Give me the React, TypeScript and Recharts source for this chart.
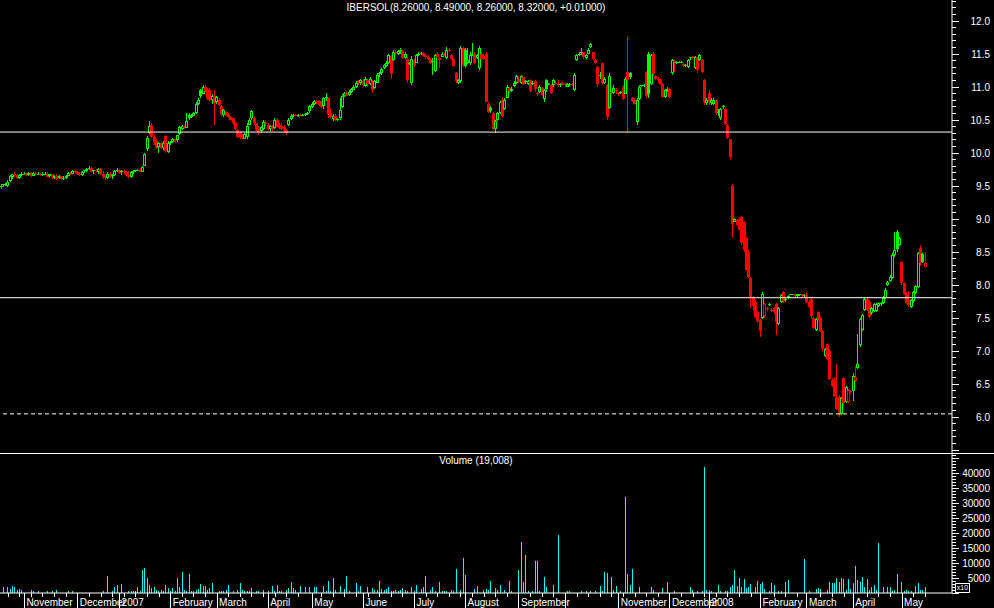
import React from 'react'
import { ComposedChart, Bar, XAxis, YAxis, ReferenceLine } from 'recharts'

// one row per trading day: open, high, low, close, volume (in x10 units)
type Row = [number, number, number, number, number]

const oct06: Row[] = [
  [9.48,9.52,9.45,9.50,0],[9.50,9.53,9.48,9.52,2000],[9.52,9.54,9.50,9.53,0],[9.50,9.58,9.48,9.56,2000],
  [9.56,9.66,9.55,9.64,1200],[9.62,9.68,9.60,9.67,2300],[9.67,9.70,9.63,9.66,1900],[9.66,9.68,9.60,9.62,1000],
  [9.62,9.68,9.60,9.66,1200],[9.66,9.70,9.64,9.68,1000],
]
const nov06: Row[] = [
  [9.68,9.70,9.66,9.68,0],[9.68,9.69,9.65,9.66,0],[9.66,9.70,9.65,9.69,0],[9.69,9.70,9.63,9.65,900],
  [9.65,9.70,9.64,9.69,500],[9.69,9.71,9.66,9.67,0],[9.67,9.70,9.66,9.68,500],[9.68,9.69,9.64,9.66,0],
  [9.66,9.70,9.65,9.68,0],[9.68,9.70,9.66,9.68,0],[9.68,9.70,9.63,9.64,500],[9.64,9.68,9.62,9.67,0],
  [9.67,9.68,9.60,9.62,500],[9.62,9.66,9.60,9.65,0],[9.65,9.67,9.59,9.61,900],[9.61,9.66,9.60,9.64,0],
  [9.64,9.65,9.58,9.60,0],[9.60,9.64,9.58,9.62,0],[9.62,9.66,9.60,9.65,0],[9.65,9.70,9.64,9.69,500],
  [9.69,9.70,9.66,9.68,0],[9.68,9.73,9.67,9.72,500],[9.72,9.74,9.69,9.70,0],
]
const dec06: Row[] = [
  [9.70,9.72,9.66,9.67,0],[9.67,9.70,9.65,9.66,0],[9.66,9.72,9.65,9.71,0],[9.71,9.74,9.69,9.73,0],
  [9.72,9.76,9.70,9.75,0],[9.75,9.79,9.73,9.77,0],[9.77,9.78,9.70,9.71,0],[9.71,9.74,9.68,9.73,0],
  [9.73,9.75,9.70,9.72,0],[9.70,9.76,9.68,9.75,0],[9.75,9.76,9.66,9.67,0],[9.67,9.72,9.60,9.63,500],
  [9.63,9.66,9.58,9.62,0],[9.62,9.70,9.60,9.68,5700],[9.68,9.70,9.62,9.64,0],[9.64,9.68,9.60,9.66,500],
  [9.66,9.74,9.64,9.72,2000],[9.72,9.76,9.70,9.74,2700],
]
const jan07: Row[] = [
  [9.74,9.75,9.68,9.70,0],[9.70,9.73,9.66,9.72,3000],[9.72,9.74,9.68,9.70,0],[9.70,9.72,9.64,9.66,0],
  [9.66,9.72,9.62,9.63,500],[9.63,9.72,9.62,9.70,800],[9.70,9.74,9.68,9.72,500],[9.72,9.74,9.71,9.73,500],
  [9.73,9.75,9.72,9.74,2000],[9.74,9.76,9.70,9.71,500],[9.71,9.80,9.70,9.78,7700],[9.80,10.00,9.80,9.98,8300],
  [10.05,10.25,10.02,10.22,5000],[10.30,10.47,10.28,10.40,2700],[10.42,10.44,10.22,10.24,1500],[10.24,10.28,10.12,10.16,2000],
  [10.18,10.20,10.06,10.08,1000],[10.08,10.16,10.00,10.14,500],[10.14,10.16,10.05,10.07,1000],[10.07,10.17,10.04,10.15,500],
  [10.25,10.26,10.00,10.02,2700],[10.02,10.18,10.00,10.15,1700],
]
const feb07: Row[] = [
  [10.15,10.18,10.12,10.16,800],[10.15,10.22,10.14,10.20,1700],[10.20,10.21,10.15,10.17,500],[10.18,10.27,10.16,10.26,5000],
  [10.28,10.40,10.27,10.38,2000],[10.36,10.42,10.34,10.40,7000],[10.40,10.41,10.35,10.37,1000],[10.38,10.60,10.37,10.48,500],
  [10.57,10.60,10.50,10.52,6300],[10.54,10.58,10.52,10.56,500],[10.56,10.62,10.55,10.60,500],[10.60,10.76,10.59,10.74,900],
  [10.74,10.82,10.72,10.80,1200],[10.95,10.97,10.82,10.86,3000],[10.90,11.03,10.90,11.00,2300],[11.00,11.02,10.92,10.94,2300],
  [10.96,10.98,10.80,10.82,1000],[10.95,10.98,10.78,10.80,1700],[10.80,10.88,10.74,10.86,3300],[10.86,10.95,10.42,10.76,0],
]
const mar07: Row[] = [
  [10.76,10.86,10.74,10.84,0],[10.80,10.82,10.70,10.72,800],[10.70,10.72,10.55,10.58,800],[10.56,10.66,10.54,10.64,500],
  [10.62,10.63,10.55,10.56,900],[10.58,10.60,10.52,10.54,2700],[10.54,10.56,10.48,10.50,0],[10.52,10.54,10.42,10.44,500],
  [10.44,10.46,10.34,10.35,0],[10.34,10.36,10.22,10.24,900],[10.30,10.32,10.20,10.22,3300],[10.26,10.28,10.20,10.21,900],
  [10.21,10.30,10.20,10.28,500],[10.24,10.45,10.20,10.40,800],[10.42,10.52,10.41,10.50,500],[10.52,10.65,10.50,10.63,1700],
  [10.52,10.55,10.42,10.44,0],[10.44,10.45,10.32,10.34,800],[10.38,10.40,10.26,10.30,800],[10.32,10.40,10.30,10.38,0],
  [10.36,10.50,10.34,10.46,900],[10.44,10.48,10.40,10.42,0],
]
const apr07: Row[] = [
  [10.42,10.44,10.34,10.36,500],[10.36,10.42,10.32,10.40,0],[10.40,10.42,10.32,10.35,2300],[10.38,10.52,10.36,10.50,500],
  [10.50,10.52,10.38,10.40,2700],[10.42,10.45,10.36,10.38,800],[10.40,10.44,10.34,10.36,800],[10.38,10.42,10.30,10.34,0],
  [10.34,10.36,10.26,10.30,1000],[10.42,10.52,10.40,10.50,1700],[10.52,10.58,10.50,10.56,3700],[10.56,10.58,10.54,10.57,1700],
  [10.57,10.58,10.55,10.56,900],[10.56,10.58,10.54,10.57,0],[10.57,10.59,10.55,10.56,2300],[10.56,10.58,10.55,10.57,0],
  [10.57,10.60,10.56,10.59,2000],[10.59,10.62,10.57,10.60,0],[10.62,10.72,10.60,10.70,2000],
]
const may07: Row[] = [
  [10.70,10.76,10.68,10.74,0],[10.74,10.80,10.72,10.78,2000],[10.78,10.80,10.74,10.76,2000],[10.78,10.80,10.70,10.72,0],
  [10.74,10.78,10.68,10.70,0],[10.70,10.84,10.66,10.82,2300],[10.82,10.90,10.78,10.84,500],[10.82,10.84,10.52,10.56,4000],
  [10.60,10.66,10.52,10.54,500],[10.52,10.58,10.47,10.56,5000],[10.56,10.58,10.48,10.50,900],[10.50,10.52,10.48,10.51,0],
  [10.52,10.82,10.50,10.64,2300],[10.70,10.88,10.68,10.86,0],[10.86,10.92,10.84,10.90,1300],[10.90,10.93,10.85,10.86,5700],
  [10.88,10.94,10.86,10.92,500],[10.92,10.98,10.90,10.96,0],[10.96,11.02,10.94,11.00,0],[11.00,11.08,10.98,11.06,3300],
  [11.08,11.10,11.03,11.05,600],[11.05,11.12,11.03,11.10,2300],
]
const jun07: Row[] = [
  [11.08,11.12,11.00,11.02,0],[11.02,11.14,11.00,11.12,0],[11.10,11.12,11.00,11.04,2000],[11.04,11.14,11.02,11.12,0],
  [11.08,11.10,10.90,10.94,1700],[10.98,11.10,10.96,11.08,1000],[11.06,11.20,11.05,11.18,900],[11.18,11.22,11.14,11.20,4000],
  [11.20,11.28,11.18,11.26,1300],[11.28,11.34,11.26,11.32,1000],[11.32,11.38,11.30,11.36,1300],[11.36,11.50,11.34,11.48,2000],
  [11.46,11.48,11.12,11.18,500],[11.40,11.55,11.38,11.52,500],[11.52,11.56,11.48,11.50,900],[11.50,11.56,11.48,11.54,600],
  [11.54,11.58,11.50,11.56,900],[11.54,11.55,11.42,11.44,1700],[11.44,11.52,11.42,11.50,900],[11.42,11.44,11.06,11.10,500],
  [11.36,11.37,11.33,11.34,0],[11.05,11.46,11.02,11.42,2000],
]
const jul07: Row[] = [
  [11.40,11.42,11.30,11.33,500],[11.36,11.50,11.35,11.48,2700],[11.48,11.52,11.46,11.50,0],[11.50,11.53,11.48,11.51,1300],
  [11.51,11.52,11.44,11.46,2000],[11.48,11.50,11.42,11.45,5700],[11.45,11.48,11.40,11.42,0],[11.42,11.43,11.34,11.36,1000],
  [11.38,11.43,11.17,11.38,2000],[11.24,11.50,11.22,11.48,500],[11.50,11.52,11.44,11.46,0],[11.43,11.44,11.28,11.40,3700],
  [11.46,11.52,11.45,11.50,600],[11.50,11.51,11.46,11.47,600],[11.44,11.60,11.42,11.56,500],[11.56,11.58,11.52,11.55,0],
  [11.48,11.50,11.40,11.42,1000],[11.42,11.43,11.30,11.32,500],[11.20,11.22,11.06,11.08,8000],[11.06,11.12,11.04,11.10,0],
  [11.08,11.62,11.06,11.58,1000],[11.58,11.60,11.30,11.32,11700],
]
const aug07: Row[] = [
  [11.56,11.58,11.28,11.32,6000],[11.36,11.58,11.34,11.40,0],[11.36,11.52,11.32,11.48,0],[11.48,11.66,11.46,11.50,0],
  [11.50,11.52,11.34,11.36,1300],[11.44,11.50,11.42,11.48,2300],[11.28,11.62,11.25,11.58,0],[11.50,11.52,11.40,11.42,0],
  [11.46,11.50,11.40,11.41,1000],[11.50,11.52,10.76,10.78,1300],[10.74,10.76,10.60,10.62,1000],[10.68,10.70,10.60,10.64,4000],
  [10.60,10.62,10.34,10.36,0],[10.36,10.50,10.30,10.48,1700],[10.50,10.62,10.48,10.60,1000],[10.60,10.78,10.58,10.76,2700],
  [10.80,10.84,10.52,10.55,0],[10.66,10.82,10.64,10.80,1000],[10.84,11.02,10.82,11.00,0],[10.98,11.00,10.90,10.94,4000],
  [10.94,11.00,10.92,10.97,500],[11.02,11.08,11.00,11.06,0],[11.06,11.18,11.04,11.16,0],
]
const sep07: Row[] = [
  [11.12,11.16,11.06,11.08,7700],[11.06,11.18,11.04,11.16,17000],[11.14,11.15,11.02,11.04,3700],[11.08,11.10,11.04,11.06,12700],
  [11.04,11.10,11.02,11.08,500],[11.10,11.11,10.92,10.94,0],[11.04,11.08,11.02,11.06,500],[11.08,11.10,10.92,10.96,10700],
  [10.90,10.91,10.86,10.88,10700],[10.92,11.02,10.90,11.00,500],[10.98,11.00,10.86,10.88,0],[10.80,10.96,10.76,10.94,5300],
  [11.10,11.12,10.92,10.96,2000],[11.04,11.06,11.02,11.04,0],[11.02,11.04,10.88,10.90,0],[11.02,11.12,11.00,11.10,2700],
  [11.06,11.08,11.04,11.06,0],[11.02,11.10,11.00,11.04,19300],[11.02,11.06,11.00,11.04,0],[11.06,11.07,11.02,11.03,0],
]
const oct07: Row[] = [
  [11.04,11.06,11.00,11.02,0],[11.00,11.06,10.99,11.04,600],[11.02,11.05,11.00,11.04,500],[11.04,11.05,11.01,11.02,0],
  [10.96,11.20,10.93,11.18,0],[11.40,11.50,11.38,11.48,0],[11.48,11.52,11.46,11.50,0],[11.50,11.58,11.48,11.52,500],
  [11.52,11.53,11.42,11.44,0],[11.44,11.50,11.42,11.48,800],[11.50,11.58,11.49,11.56,0],[11.60,11.66,11.58,11.64,800],
  [11.52,11.53,11.40,11.42,0],[11.40,11.41,11.34,11.36,800],[11.30,11.31,11.00,11.04,0],[11.16,11.22,11.12,11.18,2300],
  [11.35,11.36,11.02,11.05,500],[11.06,11.14,11.04,11.12,7000],[11.02,11.04,10.50,10.54,6700],[10.68,11.20,10.66,11.16,0],
  [10.92,10.93,10.88,10.90,5300],[10.90,11.02,10.88,10.98,1000],[10.94,10.98,10.88,10.92,2300],
]
const nov07: Row[] = [
  [10.90,10.92,10.86,10.90,0],[10.90,10.93,10.88,10.91,500],[11.00,11.02,10.80,10.82,0],[10.90,11.14,10.88,11.12,32000],
  [11.22,11.75,10.30,11.10,6300],[11.20,11.22,11.12,11.14,2700],[10.82,10.84,10.76,10.78,8000],[10.80,10.82,10.72,10.74,0],
  [10.46,10.82,10.42,10.80,0],[10.82,11.02,10.80,11.00,2000],[11.02,11.03,11.00,11.02,0],[11.02,11.04,11.00,11.02,0],
  [11.22,11.24,10.82,10.86,0],[11.50,11.52,10.82,10.90,0],[11.04,11.50,11.02,11.48,2000],[11.50,11.52,11.16,11.20,1000],
  [11.16,11.18,11.10,11.12,0],[11.12,11.14,11.06,11.10,0],[11.10,11.12,11.02,11.04,0],[11.04,11.05,10.82,10.84,1700],
  [10.84,10.96,10.82,10.94,0],[10.94,11.00,10.92,10.97,3700],
]
const dec07: Row[] = [
  [10.96,10.98,10.82,10.84,0],[11.20,11.42,11.18,11.40,0],[11.38,11.40,11.22,11.36,600],[11.36,11.38,11.34,11.37,0],
  [11.37,11.38,11.35,11.37,0],[11.37,11.38,11.36,11.37,0],[11.34,11.35,11.30,11.32,0],[11.32,11.34,11.30,11.33,0],
  [11.30,11.42,11.28,11.40,0],[11.42,11.45,11.40,11.44,2000],[11.44,11.46,11.42,11.43,1000],[11.28,11.46,11.26,11.44,0],
  [11.44,11.45,11.20,11.24,600],[11.40,11.50,11.38,11.48,0],[11.40,11.42,11.20,11.22,600],[11.10,11.12,10.72,10.76,42000],
  [10.76,10.82,10.72,10.80,1000],
]
const jan08: Row[] = [
  [10.90,10.95,10.72,10.76,1000],[10.76,10.82,10.72,10.80,600],[10.74,10.82,10.72,10.80,0],[10.80,10.81,10.57,10.60,0],
  [10.60,10.66,10.56,10.62,2700],[10.52,10.68,10.50,10.66,600],[10.70,10.72,10.66,10.68,0],[10.66,10.67,10.42,10.44,500],
  [10.42,10.43,10.20,10.22,600],[10.20,10.21,9.90,9.92,2000],[9.50,9.52,8.70,8.92,2700],[8.95,9.01,8.94,9.00,7700],
  [8.98,8.99,8.88,8.90,2300],[9.00,9.02,8.82,8.84,5000],[9.02,9.04,8.60,8.62,2000],[8.95,8.96,8.50,8.52,4700],
  [8.70,8.72,8.20,8.22,1700],[8.50,8.52,8.10,8.12,2000],[8.10,8.11,7.65,7.80,3000],[7.80,7.82,7.60,7.68,0],
  [7.74,7.76,7.50,7.52,2000],[7.58,7.60,7.42,7.44,4000],
]
const feb08: Row[] = [
  [7.46,7.48,7.20,7.30,3000],[7.50,7.88,7.48,7.86,3700],[7.52,7.72,7.50,7.70,1300],[7.64,7.66,7.60,7.62,0],
  [7.70,7.72,7.68,7.70,500],[7.62,7.64,7.58,7.60,3300],[7.64,7.66,7.56,7.58,2700],[7.70,7.72,7.24,7.42,0],
  [7.40,7.66,7.38,7.64,500],[7.74,7.86,7.72,7.84,800],[7.88,7.90,7.72,7.74,0],[7.76,7.80,7.74,7.78,3700],
  [7.80,7.84,7.78,7.82,4300],[7.85,7.86,7.84,7.85,0],[7.85,7.86,7.84,7.85,0],[7.84,7.85,7.80,7.82,0],
  [7.82,7.86,7.81,7.85,0],[7.83,7.86,7.82,7.85,0],[7.85,7.86,7.80,7.82,0],[7.82,7.86,7.81,7.84,11300],
]
const mar08: Row[] = [
  [7.84,7.88,7.72,7.74,0],[7.74,7.76,7.64,7.66,500],[7.78,7.80,7.50,7.52,0],[7.50,7.51,7.33,7.35,0],
  [7.32,7.50,7.30,7.48,1300],[7.58,7.60,7.44,7.46,1700],[7.50,7.52,7.28,7.30,1300],[7.30,7.31,7.00,7.02,0],
  [6.92,7.04,6.90,7.02,0],[7.10,7.12,6.86,6.88,1000],[7.00,7.02,6.55,6.58,3700],[6.55,6.58,6.44,6.46,3300],
  [6.56,6.58,6.30,6.32,3300],[6.30,6.80,6.10,6.12,5000],[6.30,6.32,6.00,6.02,3700],[6.04,6.30,6.02,6.28,5000],
  [6.58,6.60,6.16,6.20,4700],[6.22,6.46,6.20,6.44,1000],[6.22,6.42,6.20,6.40,4700],[6.36,6.40,6.34,6.38,1300],
]
const apr08: Row[] = [
  [6.40,6.66,6.24,6.62,3300],[6.54,6.76,6.52,6.60,9000],[6.74,7.25,6.72,6.80,4300],[7.08,7.50,7.06,7.48,3700],
  [7.32,7.56,7.30,7.54,5300],[7.62,7.80,7.60,7.78,2000],[7.78,7.80,7.60,7.62,4700],[7.74,7.76,7.50,7.52,1000],
  [7.56,7.66,7.54,7.64,2000],[7.60,7.72,7.58,7.70,2700],[7.60,7.72,7.58,7.70,1000],[7.68,7.73,7.66,7.72,16700],
  [7.70,7.74,7.68,7.72,0],[7.72,7.82,7.70,7.80,2000],[7.80,7.94,7.78,7.92,0],[8.00,8.06,7.98,8.04,2000],
  [8.06,8.14,8.04,8.12,2000],[8.10,8.48,8.08,8.45,600],[8.44,8.80,8.42,8.52,1000],[8.80,8.82,8.50,8.54,6300],
  [8.60,8.72,8.58,8.70,0],
]
const may08: Row[] = [
  [8.34,8.36,8.00,8.02,3700],[8.02,8.04,7.84,7.86,600],[7.86,7.88,7.70,7.72,1000],[7.76,7.90,7.66,7.68,600],
  [7.66,7.78,7.65,7.76,800],[7.74,7.90,7.72,7.88,0],[7.88,8.00,7.86,7.98,2300],[7.96,8.50,7.94,8.48,3300],
  [8.56,8.60,8.28,8.34,1000],[8.46,8.48,8.33,8.34,1000],[8.26,8.49,8.26,8.32,1900],
]

const months = [oct06, nov06, dec06, jan07, feb07, mar07, apr07, may07, jun07, jul07, aug07, sep07,
  oct07, nov07, dec07, jan08, feb08, mar08, apr08, may08]

// first trading day of each month (slot index) and the label printed after it
const monthStarts = [10, 33, 51, 73, 93, 115, 134, 156, 178, 200, 223, 243, 266, 288, 305, 327, 347, 367, 388]
const monthLabels = ['November', 'December', '2007', 'February', 'March', 'April', 'May', 'June', 'July',
  'August', 'September', '', 'November', 'December', '2008', 'February', 'March', 'April', 'May']

const title = 'IBERSOL(8.26000, 8.49000, 8.26000, 8.32000, +0.01000)'
const volumeTitle = 'Volume (19,008)'
const resistance = 10.31
const support = 7.8
const lowLine = 6.04

const SLOTS = 410
const W = 994
const AXIS_W = 42
const FONT = "'Liberation Sans', Arial, sans-serif"
const GREEN = '#00ff00'
const RED = '#ff0000'
const CYAN = '#00ffff'

const candles = months.flat()
const data = Array.from({ length: SLOTS }, (_, i) => {
  const r = candles[i]
  if (!r) return { i }
  const pc = i > 0 ? candles[i - 1][3] : r[0]
  return { i, o: r[0], h: r[1], l: r[2], c: r[3], v: r[4], pc }
})

const priceTicks = Array.from({ length: 69 }, (_, k) => (55 + k) / 10)
const volTicks = Array.from({ length: 47 }, (_, k) => k * 1000)
const weekTicks = Array.from({ length: 80 }, (_, k) => 3 + k * 5)
  .filter(t => t < 400 && !monthStarts.some(m => Math.abs(m - t) < 2))
const xTicks = [...monthStarts, ...weekTicks].sort((a, b) => a - b)

function Candle(props: any) {
  const { x, y, width, height, payload } = props
  if (!payload || payload.h == null) return null
  const { o, h, l, c, pc } = payload
  const top = Math.min(y, y + height)
  const H = Math.abs(height)
  const py = (v: number) => top + ((h - v) / (h - l)) * H
  const cx = Math.floor(x + width / 2)
  const color = c >= pc ? GREEN : RED
  const yo = py(o)
  const yc = py(c)
  const bTop = Math.round(Math.min(yo, yc))
  const bH = Math.max(1, Math.round(Math.abs(yo - yc)))
  return (
    <g>
      <line x1={cx + 0.5} x2={cx + 0.5} y1={Math.round(top)} y2={Math.round(top + H)} stroke={color} strokeWidth={1} />
      {c > o && bH > 2 ? (
        <rect x={cx - 0.5} y={bTop + 0.5} width={2} height={bH - 1} fill="#000" stroke={color} strokeWidth={1} />
      ) : (
        <rect x={cx - 1} y={bTop} width={3} height={bH} fill={color} />
      )}
    </g>
  )
}

function VolBar(props: any) {
  const { x, y, width, height, payload } = props
  if (!payload || !payload.v) return null
  const cx = Math.floor(x + width / 2)
  return <rect x={cx} y={Math.round(y)} width={1} height={Math.max(1, Math.round(height))} fill={CYAN} />
}

function PriceTick(props: any) {
  const { x, y, payload } = props
  const v = payload.value
  const major = Math.abs(v * 2 - Math.round(v * 2)) < 1e-6
  const yy = Math.round(y) + 0.5
  return (
    <g>
      <line x1={x} x2={x + (major ? 7 : 4)} y1={yy} y2={yy} stroke="#fff" strokeWidth={1} />
      {major && v >= 6 && v <= 12 && (
        <text x={x + 38} y={y + 4} textAnchor="end" fill="#fff" fontSize={10} fontFamily={FONT}>
          {v.toFixed(1)}
        </text>
      )}
    </g>
  )
}

function VolTick(props: any) {
  const { x, y, payload } = props
  const v = payload.value
  const major = v % 5000 === 0
  const yy = Math.round(y) + 0.5
  return (
    <g>
      <line x1={x} x2={x + (major ? 7 : 4)} y1={yy} y2={yy} stroke="#fff" strokeWidth={1} />
      {major && v > 0 && v <= 40000 && (
        <text x={x + 38} y={y + 4} textAnchor="end" fill="#fff" fontSize={10} fontFamily={FONT}>
          {v}
        </text>
      )}
    </g>
  )
}

function DateTick(props: any) {
  const { x, y, payload } = props
  const k = monthStarts.indexOf(payload.value)
  const xx = Math.floor(x) + 0.5
  if (k < 0) return <line x1={xx} x2={xx} y1={y} y2={y + 4} stroke="#fff" strokeWidth={1} />
  return (
    <g>
      <line x1={xx} x2={xx} y1={y} y2={y + 15} stroke="#fff" strokeWidth={1} />
      <text x={x + 2} y={y + 13} fill="#fff" fontSize={10} fontFamily={FONT}>{monthLabels[k]}</text>
    </g>
  )
}

const label: React.CSSProperties = {
  position: 'absolute', color: '#fff', fontFamily: FONT, fontSize: 10, lineHeight: '12px', whiteSpace: 'nowrap',
}

export default function App() {
  return (
    <div style={{ position: 'fixed', left: 0, top: 0, width: W, height: 608, background: '#000', overflow: 'hidden' }}>
      <div style={{ position: 'absolute', left: 0, top: 0 }}>
        <ComposedChart width={W} height={453} data={data} barCategoryGap={0}
          margin={{ top: 0, right: 0, bottom: 0, left: 0 }}>
          <XAxis dataKey="i" hide />
          <YAxis orientation="right" width={AXIS_W} domain={[5.447, 12.311]} allowDataOverflow type="number"
            ticks={priceTicks} interval={0} tick={<PriceTick />} tickLine={false} tickSize={0} tickMargin={0}
            axisLine={{ stroke: '#fff' }} />
          <Bar dataKey={(d: any) => (d.h == null ? null : [d.l, d.h])} shape={<Candle />} isAnimationActive={false} />
          <ReferenceLine y={resistance} stroke="#fff" strokeWidth={1} />
          <ReferenceLine y={support} stroke="#fff" strokeWidth={1} />
          <ReferenceLine y={lowLine} stroke="#fff" strokeWidth={1} strokeDasharray="4 3" />
        </ComposedChart>
      </div>
      <div style={{ position: 'absolute', left: 0, top: 453, width: W, height: 1, background: '#fff' }} />
      <div style={{ position: 'absolute', left: 0, top: 454 }}>
        <ComposedChart width={W} height={154} data={data} barCategoryGap={0}
          margin={{ top: 0, right: 0, bottom: 0, left: 0 }}>
          <XAxis dataKey="i" height={15} ticks={xTicks} interval={0} tick={<DateTick />} tickLine={false}
            tickSize={0} tickMargin={0} axisLine={{ stroke: '#fff' }} />
          <YAxis orientation="right" width={AXIS_W} domain={[0, 46333]} allowDataOverflow type="number"
            ticks={volTicks} interval={0} tick={<VolTick />} tickLine={false} tickSize={0} tickMargin={0}
            axisLine={{ stroke: '#fff' }} />
          <Bar dataKey="v" shape={<VolBar />} isAnimationActive={false} />
        </ComposedChart>
      </div>
      <div style={{ ...label, left: 0, width: 952, top: 2, textAlign: 'center' }}>{title}</div>
      <div style={{ ...label, left: 0, width: 952, top: 455, textAlign: 'center' }}>{volumeTitle}</div>
      <div style={{ ...label, left: 955, top: 583, width: 13, height: 8, border: '1px solid #fff', fontSize: 7,
        lineHeight: '8px', textAlign: 'center', background: '#000' }}>x10</div>
    </div>
  )
}
